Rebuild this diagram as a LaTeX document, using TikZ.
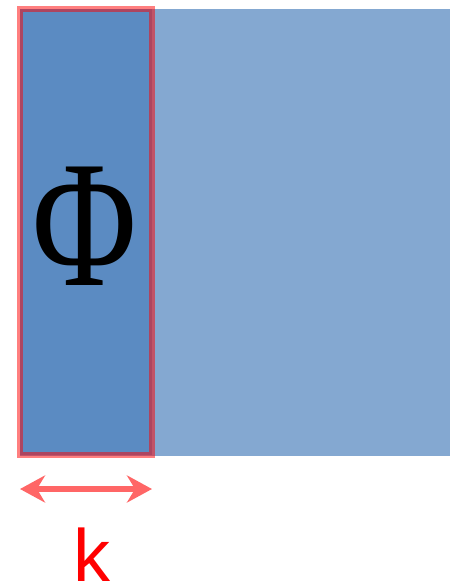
\documentclass[tikz,border=0pt]{standalone}
\usepackage{fontspec}
\setmainfont{Liberation Serif}
\newfontfamily\labelfont{Liberation Sans}
\usetikzlibrary{arrows.meta}
\definecolor{blockblue}{RGB}{132,168,209}
\definecolor{colblue}{RGB}{91,139,194}
\definecolor{arrowred}{RGB}{255,102,102}
\tikzset{widthtip/.tip={Stealth[length=25pt, width=27pt, inset=8pt]}}
\begin{document}
\begin{tikzpicture}[x=1pt, y=-1pt]
    \useasboundingbox (0,0) rectangle (450,587);
    % Whole block
    \fill[blockblue] (20,9) rectangle (450,456);
    % Highlighted column
    \fill[colblue] (20,8.5) rectangle (152,454.5);
    \draw[red, opacity=0.5, line width=6pt] (20,8.5) rectangle (152,454.5);
    \node[inner sep=0pt, anchor=base, xscale=0.79] (phi) at (85,285)
        {\fontsize{181}{181}\selectfont Φ};
    % Width of the column
    \coordinate (kleft) at (20,489);
    \coordinate (kright) at (152,489);
    \draw[arrowred, line width=6pt, widthtip-widthtip] (kleft) -- (kright);
    \node[red, inner sep=0pt, anchor=base] (k) at (92,581)
        {\labelfont\fontsize{74}{74}\selectfont k};
\end{tikzpicture}
\end{document}
